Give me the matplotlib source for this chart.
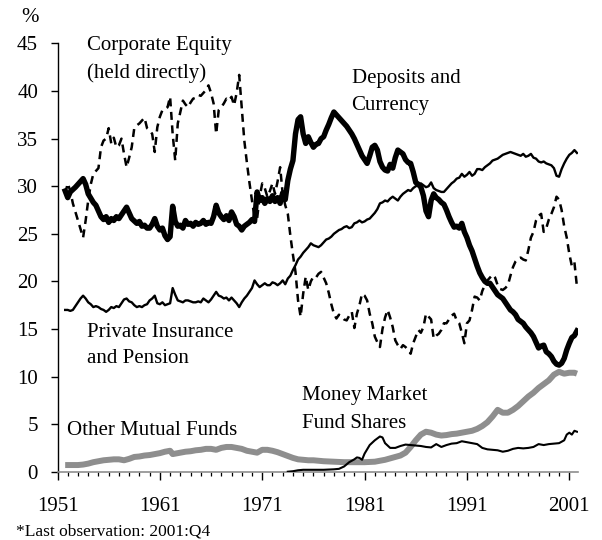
import matplotlib
matplotlib.use("Agg")
import matplotlib.pyplot as plt
from matplotlib.ticker import MultipleLocator, FixedLocator

plt.rcParams['font.family'] = ['Liberation Serif', 'DejaVu Serif']

# ---------------- data (percent of household financial assets) ----------------
dep_t = [1951.75, 1952.0, 1952.25, 1952.75, 1953.25, 1953.5, 1953.75, 1954.0, 1954.5, 1954.75,
         1955.25, 1955.5, 1955.75, 1956.0, 1956.25, 1956.5, 1956.75, 1957.0, 1957.5, 1957.75,
         1958.0, 1958.25, 1958.75, 1959.0, 1959.25, 1959.5, 1959.75, 1960.0, 1960.25, 1960.5,
         1960.75, 1961.0, 1961.25, 1961.5, 1961.75, 1962.0, 1962.25, 1962.5, 1962.75, 1963.0,
         1963.25, 1963.5, 1963.75, 1964.0, 1964.25, 1964.5, 1964.75, 1965.0, 1965.25, 1965.5,
         1965.75, 1966.0, 1966.25, 1966.5, 1966.75, 1967.0, 1967.25, 1967.5, 1967.75, 1968.0,
         1968.25, 1968.5, 1968.75, 1969.0, 1969.25, 1969.5, 1969.75, 1970.0, 1970.25, 1970.5,
         1970.75, 1971.0, 1971.25, 1971.5, 1971.75, 1972.0, 1972.25, 1972.5, 1972.75, 1973.0,
         1973.25, 1973.5, 1973.75, 1974.0, 1974.25, 1974.5, 1974.75, 1975.0, 1975.25, 1975.5,
         1975.75, 1976.0, 1976.25, 1976.5, 1976.75, 1977.0, 1977.25, 1977.5, 1977.75, 1978.0,
         1978.25, 1978.5, 1978.75, 1979.0, 1979.25, 1979.5, 1979.75, 1980.0, 1980.25, 1980.5,
         1980.75, 1981.0, 1981.25, 1981.5, 1981.75, 1982.0, 1982.25, 1982.5, 1982.75, 1983.0,
         1983.25, 1983.5, 1983.75, 1984.0, 1984.25, 1984.5, 1984.75, 1985.0, 1985.25, 1985.5,
         1985.75, 1986.0, 1986.25, 1986.5, 1986.75, 1987.0, 1987.25, 1987.5, 1987.75, 1988.0,
         1988.25, 1988.5, 1988.75, 1989.0, 1989.25, 1989.5, 1989.75, 1990.0, 1990.25, 1990.5,
         1990.75, 1991.0, 1991.25, 1991.5, 1991.75, 1992.0, 1992.25, 1992.5, 1992.75, 1993.0,
         1993.25, 1993.5, 1993.75, 1994.0, 1994.25, 1994.5, 1994.75, 1995.0, 1995.25, 1995.5,
         1995.75, 1996.0, 1996.25, 1996.5, 1996.75, 1997.0, 1997.25, 1997.5, 1997.75, 1998.0,
         1998.25, 1998.5, 1998.75, 1999.0, 1999.25, 1999.5, 1999.75, 2000.0, 2000.25, 2000.5,
         2000.75, 2001.0, 2001.25, 2001.5, 2001.75]
dep_v = [29.5, 28.8, 29.4, 29.9, 30.5, 30.8, 30.2, 29.2, 28.3, 28.0,
         26.8, 26.5, 26.8, 26.2, 26.6, 26.4, 26.8, 26.6, 27.4, 27.8,
         27.2, 26.6, 26.1, 26.3, 25.8, 25.9, 25.6, 25.6, 26.0, 26.6,
         25.8, 25.4, 25.6, 24.8, 24.4, 24.7, 27.9, 26.3, 25.8, 25.9,
         25.6, 26.4, 26.0, 26.1, 25.8, 26.2, 26.0, 26.1, 26.4, 26.0,
         26.2, 26.1, 26.8, 28.0, 27.2, 26.8, 26.5, 26.9, 26.4, 27.3,
         26.8, 26.0, 25.8, 25.4, 25.8, 26.0, 26.2, 26.5, 26.3, 29.4,
         28.5, 28.8, 28.2, 28.7, 28.4, 29.0, 28.4, 28.8, 28.2, 29.3,
         28.6, 30.6, 31.8, 32.7, 35.5, 37.0, 37.3, 35.5, 34.5, 35.2,
         34.6, 34.1, 34.4, 34.5, 35.0, 35.2, 35.9, 36.5, 37.2, 37.8,
         37.5, 37.2, 36.9, 36.6, 36.3, 35.9, 35.5, 35.0, 34.4, 33.8,
         33.2, 32.8, 32.4, 33.2, 34.1, 34.3, 33.8, 32.6, 32.0, 31.7,
         31.6, 32.3, 31.9, 33.0, 33.8, 33.6, 33.4, 32.8, 32.5, 32.4,
         31.5, 30.4, 30.2, 29.9, 29.0, 27.4, 26.8, 28.5, 29.2, 28.8,
         28.6, 28.3, 28.1, 27.5, 26.8, 26.2, 25.7, 25.8, 25.6, 26.1,
         25.2, 24.6, 23.8, 23.2, 22.4, 21.6, 20.9, 20.4, 20.0, 19.8,
         19.8, 19.4, 19.0, 18.6, 18.4, 18.2, 17.8, 17.4, 17.0, 16.8,
         16.5, 16.0, 15.8, 15.6, 15.2, 14.9, 14.6, 14.2, 13.6, 13.0,
         13.2, 13.3, 12.6, 12.4, 12.1, 11.6, 11.3, 11.2, 11.4, 11.9,
         12.8, 13.5, 14.1, 14.3, 14.8]

eq_t = [1951.75, 1952.0, 1952.25, 1952.5, 1952.75, 1953.0, 1953.25, 1953.5, 1953.75, 1954.0,
        1954.25, 1954.5, 1954.75, 1955.0, 1955.25, 1955.5, 1955.75, 1956.0, 1956.25, 1956.5,
        1956.75, 1957.0, 1957.25, 1957.5, 1957.75, 1958.0, 1958.25, 1958.5, 1958.75, 1959.0,
        1959.25, 1959.5, 1959.75, 1960.0, 1960.25, 1960.5, 1960.75, 1961.0, 1961.25, 1961.5,
        1961.75, 1962.0, 1962.25, 1962.5, 1962.75, 1963.0, 1963.25, 1963.5, 1963.75, 1964.0,
        1964.25, 1964.5, 1964.75, 1965.0, 1965.25, 1965.5, 1965.75, 1966.0, 1966.25, 1966.5,
        1966.75, 1967.0, 1967.25, 1967.5, 1967.75, 1968.0, 1968.25, 1968.5, 1968.75, 1969.0,
        1969.25, 1969.5, 1969.75, 1970.0, 1970.25, 1970.5, 1970.75, 1971.0, 1971.25, 1971.5,
        1971.75, 1972.0, 1972.25, 1972.5, 1972.75, 1973.0, 1973.25, 1973.5, 1973.75, 1974.0,
        1974.25, 1974.5, 1974.75, 1975.0, 1975.25, 1975.5, 1975.75, 1976.0, 1976.25, 1976.5,
        1976.75, 1977.0, 1977.25, 1977.5, 1977.75, 1978.0, 1978.25, 1978.5, 1978.75, 1979.0,
        1979.25, 1979.5, 1979.75, 1980.0, 1980.25, 1980.5, 1980.75, 1981.0, 1981.25, 1981.5,
        1981.75, 1982.0, 1982.25, 1982.5, 1982.75, 1983.0, 1983.25, 1983.5, 1983.75, 1984.0,
        1984.25, 1984.5, 1984.75, 1985.0, 1985.25, 1985.5, 1985.75, 1986.0, 1986.25, 1986.5,
        1986.75, 1987.0, 1987.25, 1987.5, 1987.75, 1988.0, 1988.25, 1988.5, 1988.75, 1989.0,
        1989.25, 1989.5, 1989.75, 1990.0, 1990.25, 1990.5, 1990.75, 1991.0, 1991.25, 1991.5,
        1991.75, 1992.0, 1992.25, 1992.5, 1992.75, 1993.0, 1993.25, 1993.5, 1993.75, 1994.0,
        1994.25, 1994.5, 1994.75, 1995.0, 1995.25, 1995.5, 1995.75, 1996.0, 1996.25, 1996.5,
        1996.75, 1997.0, 1997.25, 1997.5, 1997.75, 1998.0, 1998.25, 1998.5, 1998.75, 1999.0,
        1999.25, 1999.5, 1999.75, 2000.0, 2000.25, 2000.5, 2000.75, 2001.0, 2001.25, 2001.5,
        2001.75]
eq_v = [29.2, 30.3, 29.5, 28.2, 27.3, 26.4, 25.5, 24.6, 26.4, 28.5,
        30.2, 31.3, 31.6, 31.9, 34.1, 34.8, 35.0, 36.1, 34.5, 35.1,
        34.1, 34.3, 35.0, 33.4, 32.0, 33.0, 34.1, 36.1, 36.4, 36.6,
        36.9, 37.2, 36.1, 35.9, 35.5, 33.6, 36.2, 37.3, 38.0, 38.1,
        38.3, 39.4, 35.5, 32.7, 36.6, 37.8, 39.0, 38.6, 38.3, 38.8,
        39.2, 39.3, 39.6, 39.5, 39.8, 40.1, 40.6, 39.8, 38.7, 35.5,
        38.0, 38.3, 38.7, 39.2, 39.0, 39.4, 38.5, 39.8, 41.7, 38.3,
        34.8, 32.5, 30.4, 28.5, 26.7, 26.6, 28.9, 30.3, 29.8, 28.9,
        29.5, 30.3, 29.2, 30.5, 32.0, 29.2, 28.0, 27.1, 24.8, 22.8,
        21.0, 18.0, 16.3, 18.7, 20.5, 19.1, 20.0, 20.5, 20.4, 20.8,
        21.0, 20.4, 19.8, 18.8, 17.6, 16.6, 16.1, 16.5, 16.3, 16.0,
        15.9, 16.4, 16.8, 15.1, 16.6, 17.5, 18.7, 18.5, 18.0, 16.6,
        15.6, 14.2, 13.6, 13.1, 15.0, 16.2, 17.0, 16.2, 15.2, 13.8,
        13.3, 12.9, 13.3, 13.1, 12.8, 12.4, 13.5, 14.2, 14.9, 14.6,
        15.2, 16.6, 16.3, 16.0, 14.0, 14.3, 14.5, 14.9, 15.6, 15.6,
        16.0, 16.4, 16.6, 15.9, 15.6, 14.6, 13.5, 15.6, 15.9, 17.0,
        18.4, 18.3, 18.0, 19.0, 19.6, 20.1, 20.4, 20.7, 20.4, 19.6,
        19.2, 19.1, 19.3, 19.6, 20.6, 21.5, 22.1, 22.4, 22.5, 22.3,
        22.2, 23.3, 24.6, 25.2, 26.4, 26.9, 27.1, 25.2, 25.6, 26.5,
        27.1, 27.8, 28.9, 28.6, 27.5, 25.8, 24.6, 22.9, 21.6, 22.0,
        19.4]

pi_t = [1951.75, 1952.0, 1952.25, 1952.5, 1952.75, 1953.0, 1953.25, 1953.5, 1953.75, 1954.0,
        1954.25, 1954.5, 1954.75, 1955.0, 1955.25, 1955.5, 1955.75, 1956.0, 1956.25, 1956.5,
        1956.75, 1957.0, 1957.25, 1957.5, 1957.75, 1958.0, 1958.25, 1958.5, 1958.75, 1959.0,
        1959.25, 1959.5, 1959.75, 1960.0, 1960.25, 1960.5, 1960.75, 1961.0, 1961.25, 1961.5,
        1961.75, 1962.0, 1962.25, 1962.5, 1962.75, 1963.0, 1963.25, 1963.5, 1963.75, 1964.0,
        1964.25, 1964.5, 1964.75, 1965.0, 1965.25, 1965.5, 1965.75, 1966.0, 1966.25, 1966.5,
        1966.75, 1967.0, 1967.25, 1967.5, 1967.75, 1968.0, 1968.25, 1968.5, 1968.75, 1969.0,
        1969.25, 1969.5, 1969.75, 1970.0, 1970.25, 1970.5, 1970.75, 1971.0, 1971.25, 1971.5,
        1971.75, 1972.0, 1972.25, 1972.5, 1972.75, 1973.0, 1973.25, 1973.5, 1973.75, 1974.0,
        1974.25, 1974.5, 1974.75, 1975.0, 1975.25, 1975.5, 1975.75, 1976.0, 1976.25, 1976.5,
        1976.75, 1977.0, 1977.25, 1977.5, 1977.75, 1978.0, 1978.25, 1978.5, 1978.75, 1979.0,
        1979.25, 1979.5, 1979.75, 1980.0, 1980.25, 1980.5, 1980.75, 1981.0, 1981.25, 1981.5,
        1981.75, 1982.0, 1982.25, 1982.5, 1982.75, 1983.0, 1983.25, 1983.5, 1983.75, 1984.0,
        1984.25, 1984.5, 1984.75, 1985.0, 1985.25, 1985.5, 1985.75, 1986.0, 1986.25, 1986.5,
        1986.75, 1987.0, 1987.25, 1987.5, 1987.75, 1988.0, 1988.25, 1988.5, 1988.75, 1989.0,
        1989.25, 1989.5, 1989.75, 1990.0, 1990.25, 1990.5, 1990.75, 1991.0, 1991.25, 1991.5,
        1991.75, 1992.0, 1992.25, 1992.5, 1992.75, 1993.0, 1993.25, 1993.5, 1993.75, 1994.0,
        1994.25, 1994.5, 1994.75, 1995.0, 1995.25, 1995.5, 1995.75, 1996.0, 1996.25, 1996.5,
        1996.75, 1997.0, 1997.25, 1997.5, 1997.75, 1998.0, 1998.25, 1998.5, 1998.75, 1999.0,
        1999.25, 1999.5, 1999.75, 2000.0, 2000.25, 2000.5, 2000.75, 2001.0, 2001.25, 2001.5,
        2001.75]
pi_v = [17.0, 17.0, 16.9, 17.0, 17.4, 17.8, 18.2, 18.5, 18.2, 17.8,
        17.6, 17.3, 17.4, 17.3, 17.1, 17.0, 16.8, 17.0, 17.3, 17.2,
        17.4, 17.3, 17.7, 18.1, 18.2, 17.9, 17.8, 17.5, 17.3, 17.4,
        17.3, 17.5, 17.6, 18.0, 18.2, 18.5, 17.7, 17.6, 17.8, 17.5,
        17.6, 17.7, 19.3, 18.6, 18.0, 17.9, 17.8, 18.0, 18.0, 17.9,
        17.8, 17.8, 17.9, 17.8, 18.2, 18.0, 17.8, 18.1, 18.5, 18.9,
        18.5, 18.4, 18.2, 18.3, 18.0, 18.3, 18.0, 17.7, 17.3, 17.8,
        18.2, 18.5, 18.9, 19.3, 20.1, 19.7, 19.4, 19.6, 19.8, 19.6,
        19.6, 19.9, 19.8, 19.6, 19.8, 20.1, 19.7, 20.3, 20.6, 21.2,
        21.7, 22.3, 22.6, 23.0, 23.3, 23.6, 24.0, 23.8, 23.7, 23.6,
        23.8, 24.1, 24.4, 24.5, 24.7, 25.0, 25.2, 25.4, 25.5, 25.7,
        25.8, 25.6, 25.7, 26.1, 26.2, 26.4, 26.2, 26.3, 26.5, 26.6,
        26.9, 27.2, 27.6, 28.2, 28.3, 28.5, 28.4, 28.7, 28.9, 28.7,
        28.5, 28.9, 29.2, 29.4, 29.6, 29.5, 29.8, 30.0, 30.1, 30.3,
        30.1, 29.9, 30.0, 30.4, 29.8, 29.6, 29.5, 29.4, 29.4, 29.7,
        30.0, 30.3, 30.5, 30.8, 30.9, 31.3, 31.0, 31.2, 31.5, 31.1,
        31.3, 31.8, 31.8, 31.7, 32.0, 32.2, 32.4, 32.7, 32.8, 32.9,
        33.1, 33.3, 33.4, 33.5, 33.6, 33.5, 33.4, 33.3, 33.2, 33.4,
        33.1, 33.2, 33.4, 33.0, 32.9, 32.6, 32.5, 32.6, 32.4, 32.3,
        32.2, 31.9, 31.1, 31.0, 31.8, 32.4, 32.9, 33.3, 33.5, 33.8,
        33.5]

omf_t = [1951.75, 1952.5, 1953.0, 1953.5, 1954.0, 1954.5, 1955.0, 1955.5, 1956.0, 1956.5,
         1957.0, 1957.5, 1958.0, 1958.5, 1959.0, 1959.5, 1960.0, 1960.5, 1961.0, 1961.5,
         1962.0, 1962.25, 1962.5, 1963.0, 1963.5, 1964.0, 1964.5, 1965.0, 1965.5, 1966.0,
         1966.5, 1967.0, 1967.5, 1968.0, 1968.5, 1969.0, 1969.5, 1970.0, 1970.5, 1971.0,
         1971.5, 1972.0, 1972.5, 1973.0, 1973.5, 1974.0, 1974.5, 1975.0, 1975.5, 1976.0,
         1977.0, 1978.0, 1979.0, 1980.0, 1981.0, 1982.0, 1982.5, 1983.0, 1983.5, 1984.0,
         1984.5, 1985.0, 1985.5, 1986.0, 1986.5, 1987.0, 1987.5, 1988.0, 1988.5, 1989.0,
         1989.5, 1990.0, 1990.5, 1991.0, 1991.5, 1992.0, 1992.5, 1993.0, 1993.5, 1994.0,
         1994.5, 1995.0, 1995.5, 1996.0, 1996.5, 1997.0, 1997.5, 1998.0, 1998.5, 1999.0,
         1999.5, 2000.0, 2000.5, 2001.0, 2001.5, 2001.75]
omf_v = [0.7, 0.7, 0.7, 0.75, 0.85, 1.0, 1.1, 1.2, 1.25, 1.3,
         1.3, 1.2, 1.35, 1.55, 1.6, 1.7, 1.75, 1.85, 1.95, 2.1,
         2.2, 1.85, 1.9, 2.0, 2.1, 2.15, 2.25, 2.3, 2.4, 2.4,
         2.3, 2.5, 2.6, 2.6, 2.5, 2.4, 2.2, 2.1, 2.0, 2.3,
         2.3, 2.2, 2.05, 1.85, 1.65, 1.45, 1.3, 1.25, 1.2, 1.2,
         1.1, 1.05, 1.0, 1.0, 1.0, 1.05, 1.15, 1.25, 1.4, 1.55,
         1.7, 2.0, 2.6, 3.3, 3.9, 4.2, 4.1, 3.9, 3.8, 3.85,
         3.95, 4.0, 4.1, 4.2, 4.3, 4.5, 4.8, 5.2, 5.8, 6.5,
         6.2, 6.2, 6.5, 6.9, 7.4, 7.9, 8.3, 8.8, 9.2, 9.6,
         10.2, 10.5, 10.3, 10.4, 10.4, 10.3]

mmf_t = [1973.5, 1974.0, 1974.5, 1975.0, 1976.0, 1977.0, 1978.0, 1978.5, 1979.0, 1979.5,
         1980.0, 1980.25, 1980.5, 1980.75, 1981.0, 1981.5, 1982.0, 1982.5, 1982.75, 1983.0,
         1983.5, 1984.0, 1984.5, 1985.0, 1985.5, 1986.0, 1986.5, 1987.0, 1987.5, 1988.0,
         1988.5, 1989.0, 1989.5, 1990.0, 1990.5, 1991.0, 1991.5, 1992.0, 1992.5, 1993.0,
         1993.5, 1994.0, 1994.5, 1995.0, 1995.5, 1996.0, 1996.5, 1997.0, 1997.5, 1998.0,
         1998.5, 1999.0, 1999.5, 2000.0, 2000.5, 2000.75, 2001.0, 2001.25, 2001.5, 2001.75]
mmf_v = [0.0, 0.05, 0.15, 0.2, 0.2, 0.2, 0.25, 0.3, 0.55, 1.0,
         1.3, 1.5, 1.45, 1.25, 1.9, 2.8, 3.3, 3.7, 3.6, 3.0,
         2.5, 2.5, 2.7, 2.85, 2.8, 2.75, 2.7, 2.6, 2.55, 2.9,
         2.6, 2.8, 2.95, 3.0, 3.2, 3.1, 3.0, 2.9, 2.5, 2.35,
         2.3, 2.25, 2.1, 2.2, 2.4, 2.5, 2.45, 2.5, 2.6, 2.9,
         2.8, 2.9, 2.95, 3.0, 3.3, 3.9, 4.1, 3.9, 4.3, 4.2]

major_years = [1951, 1961, 1971, 1981, 1991, 2001]
y_ticks = [0, 5, 10, 15, 20, 25, 30, 35, 40, 45]

labels = [
    ("Corporate Equity", 1953.88, 44.3),
    ("(held directly)", 1953.88, 41.35),
    ("Deposits and", 1979.73, 40.9),
    ("Currency", 1979.73, 38.0),
    ("Private Insurance", 1953.88, 14.15),
    ("and Pension", 1953.88, 11.4),
    ("Other Mutual Funds", 1951.93, 3.86),
    ("Money Market", 1974.85, 7.53),
    ("Fund Shares", 1974.85, 4.59),
]

# ---------------- figure ----------------
fig = plt.figure(figsize=(6.02, 5.40), dpi=100)
ax = fig.add_axes([57.5 / 602, 68.3 / 540, 520.5 / 602, 428.2 / 540])

grey = '#8e8e8e'
ax.plot(omf_t, omf_v, color=grey, lw=4.3, solid_capstyle='butt', zorder=2)
ax.plot(mmf_t, mmf_v, color='black', lw=1.5, zorder=3)
ax.plot(pi_t, pi_v, color='black', lw=1.7, zorder=3)
ax.plot(dep_t, dep_v, color='black', lw=3.9, solid_joinstyle='round', zorder=4)
ax.plot(eq_t, eq_v, color='black', lw=1.8, dashes=(3.2, 2.2), zorder=5)

ax.set_xlim(1951, 2001.85)
ax.set_ylim(0, 45)

ax.spines['top'].set_visible(False)
ax.spines['right'].set_visible(False)
ax.spines['left'].set_linewidth(1.0)
ax.spines['bottom'].set_color(grey)
ax.spines['bottom'].set_linewidth(1.2)

ax.xaxis.set_major_locator(FixedLocator(major_years))
ax.xaxis.set_minor_locator(MultipleLocator(1))
ax.set_xticklabels([str(y) for y in major_years])
ax.yaxis.set_major_locator(FixedLocator(y_ticks))
ax.set_yticklabels([str(v) for v in y_ticks])

ax.tick_params(axis='x', which='major', direction='out', length=5.5, width=1.0,
               color='black', pad=13, labelsize=15)
ax.tick_params(axis='x', which='minor', direction='out', length=3, width=0.9, color='black')
ax.tick_params(axis='y', which='major', direction='out', length=5, width=1.0,
               color='black', pad=9, labelsize=15)

for txt, x, y in labels:
    ax.text(x, y, txt, fontsize=15, ha='left', va='baseline', zorder=6)

fig.text(30 / 602, 1 - 17 / 540, '%', fontsize=15, ha='center', va='center')
fig.text(16 / 602, 4 / 540, '*Last observation: 2001:Q4', fontsize=12.5,
         ha='left', va='baseline')

fig.savefig('out.png', dpi=100)
